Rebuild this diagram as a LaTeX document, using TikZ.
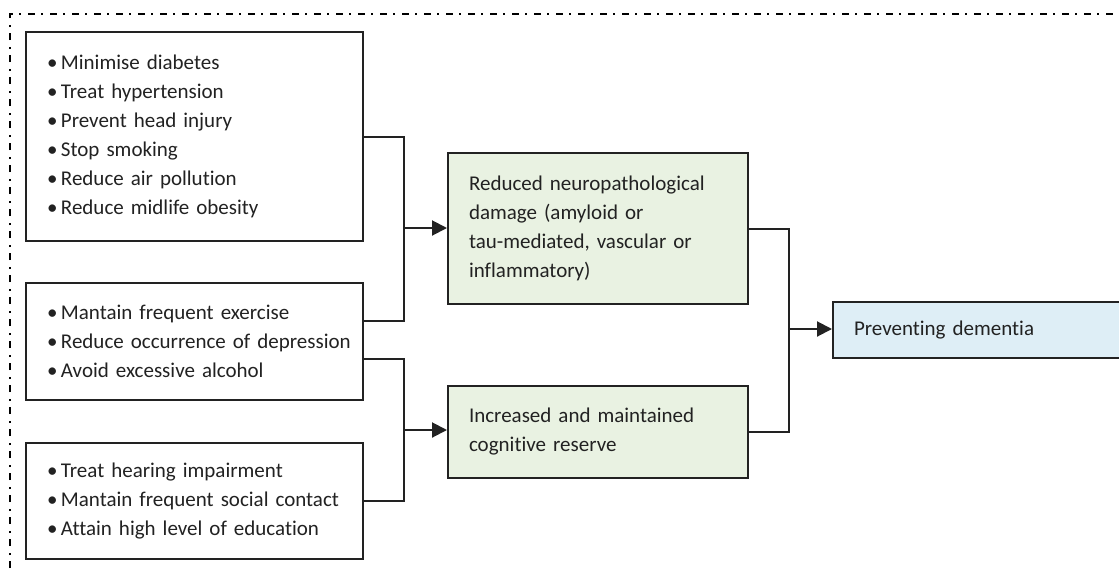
\documentclass[tikz,border=0pt]{standalone}
\usepackage{fontspec}
\setmainfont[WordSpace=0.7,Ligatures=NoCommon]{Carlito}
\usetikzlibrary{arrows.meta,calc}
\definecolor{ink}{HTML}{222222}
\definecolor{gfill}{HTML}{E9F2E2}
\definecolor{bfill}{HTML}{DEEEF6}
\tikzset{
  x=1pt, y=-1pt,
  box/.style={draw=ink, line width=2pt, anchor=north west, align=left,
    inner xsep=21pt, inner ysep=0pt, text=ink,
    font=\fontsize{21}{29}\selectfont},
  conn/.style={draw=ink, line width=2pt},
  arr/.style={conn, -{Triangle[length=15pt,width=15pt]}},
  frame/.style={draw=black, line width=2pt,
    dash pattern=on 7pt off 6pt on 2pt off 7pt}
}
\newcommand{\bitem}[1]{\mbox{\textbullet\,#1}}
\newcommand{\tline}[1]{\mbox{#1}}
\begin{document}
\begin{tikzpicture}
\useasboundingbox (0,0) rectangle (1119,568);
\fill[white] (0,0) rectangle (1119,568);
\draw[frame] (10,568) -- (10,14) -- (1119,14);

\node[box, text width=295pt, minimum height=209pt] (b1) at (25,31)
 {\bitem{Minimise diabetes}\\ \bitem{Treat hypertension}\\ \bitem{Prevent head injury}\\
  \bitem{Stop smoking}\\ \bitem{Reduce air pollution}\\ \bitem{Reduce midlife obesity}};
\node[box, text width=295pt, minimum height=117pt] (b2) at (25,282)
 {\bitem{Mantain frequent exercise}\\ \bitem{Reduce occurrence of depression}\\ \bitem{Avoid excessive alcohol}};
\node[box, text width=295pt, minimum height=116pt] (b3) at (25,442)
 {\bitem{Treat hearing impairment}\\ \bitem{Mantain frequent social contact}\\ \bitem{Attain high level of education}};

\node[box, fill=gfill, text width=258pt, minimum height=151pt] (g1) at (447,152)
 {\tline{Reduced neuropathological}\\ \tline{damage (amyloid or}\\ \tline{tau-mediated, vascular or}\\ \tline{inflammatory)}};
\node[box, fill=gfill, text width=258pt, minimum height=92pt] (g2) at (447,385)
 {\tline{Increased and maintained}\\ \tline{cognitive reserve}};
\node[box, fill=bfill, text width=250pt, minimum height=56pt] (pd) at (832,301)
 {\tline{Preventing dementia}};

\coordinate (j1) at (404,228);
\coordinate (j2) at (404,430);
\coordinate (j3) at (789,329);

\draw[conn] (b1.east) -| (j1);
\draw[conn] ($(b2.north east)+(0,39)$) -| (j1);
\draw[arr] (j1) -- (j1 -| g1.west);

\draw[conn] ($(b2.north east)+(0,77)$) -| (j2);
\draw[conn] (b3.east) -| (j2);
\draw[arr] (j2) -- (j2 -| g2.west);

\draw[conn] (g1.east) -| (j3);
\draw[conn] (g2.east) -| (j3);
\draw[arr] (j3) -- (j3 -| pd.west);
\end{tikzpicture}
\end{document}
